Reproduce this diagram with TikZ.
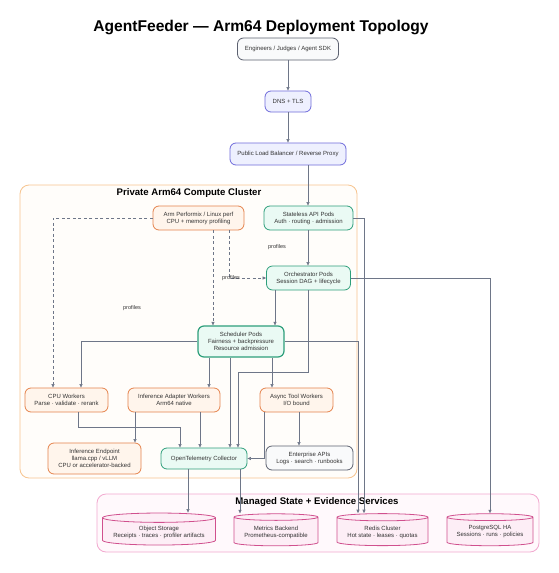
\documentclass[tikz,border=0pt]{standalone}
\usepackage{fontspec}
\setmainfont{Liberation Sans}
\usetikzlibrary{arrows.meta,shapes.geometric}

\definecolor{edgegray}{HTML}{6E7688}
\definecolor{txtgray}{HTML}{333333}
\definecolor{extline}{HTML}{5C6170}
\definecolor{extfill}{HTML}{F9FAFB}
\definecolor{netline}{HTML}{6F6BDB}
\definecolor{netfill}{HTML}{EEF0FE}
\definecolor{podline}{HTML}{2E9F7B}
\definecolor{podfill}{HTML}{EAFAF4}
\definecolor{wrkline}{HTML}{E5834C}
\definecolor{wrkfill}{HTML}{FFF5EC}
\definecolor{stoline}{HTML}{D0508E}
\definecolor{stofill}{HTML}{FDEEF6}
\definecolor{clsline}{HTML}{F7C48F}
\definecolor{clsfill}{HTML}{FFFDFA}
\definecolor{mgdline}{HTML}{F2A9CF}
\definecolor{mgdfill}{HTML}{FFF9FC}

\tikzset{
  box/.style={draw, rounded corners=6pt, line width=0.8pt, align=center, inner sep=1pt,
    text=txtgray, font=\fontsize{6}{7}\selectfont},
  extbox/.style={box, draw=extline, fill=extfill},
  netbox/.style={box, draw=netline, fill=netfill},
  podbox/.style={box, draw=podline, fill=podfill},
  wrkbox/.style={box, draw=wrkline, fill=wrkfill},
  storebox/.style={cylinder, shape border rotate=90, aspect=0.1, draw=stoline, fill=stofill,
    line width=0.8pt, align=center, inner sep=1pt, text=txtgray, font=\fontsize{6}{7}\selectfont},
  groupbox/.style={rounded corners=9pt, line width=0.8pt},
  grouptitle/.style={font=\bfseries\fontsize{9.6}{11}\selectfont, text=black},
  edge/.style={draw=edgegray, line width=0.6pt, -{Triangle[length=3.5pt,width=3pt]}},
  probe/.style={edge, dash pattern=on 3pt off 2.5pt},
  edgelabel/.style={font=\fontsize{5.5}{6}\selectfont, text=txtgray, inner sep=0pt}
}

\begin{document}
\begin{tikzpicture}[x=1pt, y=-1pt]
			%%%%% START %%%%%
			\useasboundingbox[fill=white] (0, 0) rectangle (559, 573);
			
			\node[font=\bfseries\fontsize{15.6}{18}\selectfont] (title) at (261, 27) {AgentFeeder — Arm64 Deployment Topology};
			
			% groups
			\draw[groupbox, draw=clsline, fill=clsfill] (20, 185) rectangle (357, 478);
			\node[grouptitle] (clustertitle) at (189, 193) {Private Arm64 Compute Cluster};
			\draw[groupbox, draw=mgdline, fill=mgdfill] (97, 494) rectangle (539, 552);
			
			% entry chain
			\node[extbox, minimum width=101pt, minimum height=22pt] (users) at (288, 49) {Engineers / Judges / Agent SDK};
			\node[netbox, minimum width=46pt, minimum height=21pt] (dns) at (288, 101.5) {DNS + TLS};
			\node[netbox, minimum width=116pt, minimum height=22pt] (lb) at (288, 154) {Public Load Balancer / Reverse Proxy};
			
			% cluster
			\node[wrkbox, minimum width=91pt, minimum height=24pt] (perf) at (198.5, 218) {Arm Performix / Linux perf\\CPU + memory profiling};
			\node[podbox, minimum width=89pt, minimum height=24pt] (api) at (308.5, 218) {Stateless API Pods\\Auth · routing · admission};
			\node[podbox, minimum width=84pt, minimum height=24pt] (orch) at (308.5, 278) {Orchestrator Pods\\Session DAG + lifecycle};
			\node[podbox, line width=1.2pt, minimum width=86pt, minimum height=31pt] (sched) at (241, 341.5) {Scheduler Pods\\Fairness + backpressure\\Resource admission};
			\node[wrkbox, minimum width=83pt, minimum height=24pt] (cpu) at (66.5, 400) {CPU Workers\\Parse · validate · rerank};
			\node[wrkbox, minimum width=92pt, minimum height=24pt] (adapter) at (174, 400) {Inference Adapter Workers\\Arm64 native};
			\node[wrkbox, minimum width=73pt, minimum height=24pt] (async) at (296.5, 400) {Async Tool Workers\\I/O bound};
			\node[wrkbox, minimum width=93pt, minimum height=31pt] (infer) at (94.5, 458.5) {Inference Endpoint\\llama.cpp / vLLM\\CPU or accelerator-backed};
			\node[podbox, minimum width=86pt, minimum height=21pt] (otel) at (204, 458.5) {OpenTelemetry Collector};
			\node[extbox, minimum width=87pt, minimum height=24pt] (enterprise) at (309.5, 458) {Enterprise APIs\\Logs · search · runbooks};
			
			% managed services
			\node[grouptitle] (managedtitle) at (317, 502) {Managed State + Evidence Services};
			\node[storebox, minimum width=113pt, minimum height=32pt] (objstore) at (159, 532) {Object Storage\\Receipts · traces · profiler artifacts};
			\node[storebox, minimum width=84pt, minimum height=32pt] (metrics) at (276, 532) {Metrics Backend\\Prometheus-compatible};
			\node[storebox, minimum width=91pt, minimum height=32pt] (redis) at (382.5, 532) {Redis Cluster\\Hot state · leases · quotas};
			\node[storebox, minimum width=86pt, minimum height=32pt] (postgres) at (490, 532) {PostgreSQL HA\\Sessions · runs · policies};
			
			% connector columns
			\coordinate (c53) at (53, 0);
			\coordinate (c78) at (78, 0);
			\coordinate (c81) at (81, 0);
			\coordinate (c135) at (135, 0);
			\coordinate (c180) at (180, 0);
			\coordinate (c188) at (188, 0);
			\coordinate (c200) at (200, 0);
			\coordinate (c209) at (209, 0);
			\coordinate (c213) at (213, 0);
			\coordinate (c229) at (229, 0);
			\coordinate (c230) at (230, 0);
			\coordinate (c238) at (238, 0);
			\coordinate (c240) at (240, 0);
			\coordinate (c264) at (264, 0);
			\coordinate (c272) at (272, 0);
			\coordinate (c275) at (275, 0);
			\coordinate (c299) at (299, 0);
			\coordinate (c308) at (308, 0);
			\coordinate (c358) at (358, 0);
			\coordinate (c364) at (364, 0);
			
			% entry edges
			\draw[edge] (users) -- (dns);
			\draw[edge] (dns) -- (lb);
			\draw[edge] (lb.south -| c308) -- (api.north -| c308);
			\draw[edge] (api.south -| c308) -- (orch.north -| c308);
			
			% profiling
			\draw[probe] (perf.west) -| (cpu.north -| c53);
			\draw[probe] (perf.south -| c213) -- (sched.north -| c213);
			\draw[probe] (perf.south -| c229) |- (orch.west);
			\node[edgelabel] (lblcpu) at (132, 308) {profiles};
			\node[edgelabel] (lblsched) at (277, 247) {profiles};
			\node[edgelabel] (lblorch) at (231, 278) {profiles};
			
			% control plane
			\draw[edge] (orch.south -| c275) -- (sched.north -| c275);
			\draw[edge] (orch.south -| c308) -- ++(0, 82) -| (otel.north -| c238);
			\draw[edge] (orch.east) -| (postgres.north);
			\draw[edge] (api.east) -| (redis.north -| c364);
			\draw[edge] (sched.east) -| (redis.north -| c358);
			\draw[edge] (sched.west) -| (cpu.north -| c81);
			\draw[edge] (sched.south -| c209) -- (adapter.north -| c209);
			\draw[edge] (sched.south -| c230) -- (otel.north -| c230);
			\draw[edge] (sched.south -| c272) -- (async.north -| c272);
			
			% workers
			\draw[edge] (cpu.south -| c78) -- ++(0, 15) -| (otel.north -| c180);
			\draw[edge] (adapter.south -| c135) -- (infer.north -| c135);
			\draw[edge] (adapter.south -| c200) -- (otel.north -| c200);
			\draw[edge] (async.south -| c299) -- (enterprise.north -| c299);
			\draw[edge] (async.south -| c264) |- (otel.east);
			
			% telemetry
			\draw[edge] (otel.south -| c188) -- (objstore.north -| c188);
			\draw[edge] (otel.south -| c240) -- (metrics.north -| c240);
			
			%%%%% END %%%%%
\end{tikzpicture}
\end{document}
